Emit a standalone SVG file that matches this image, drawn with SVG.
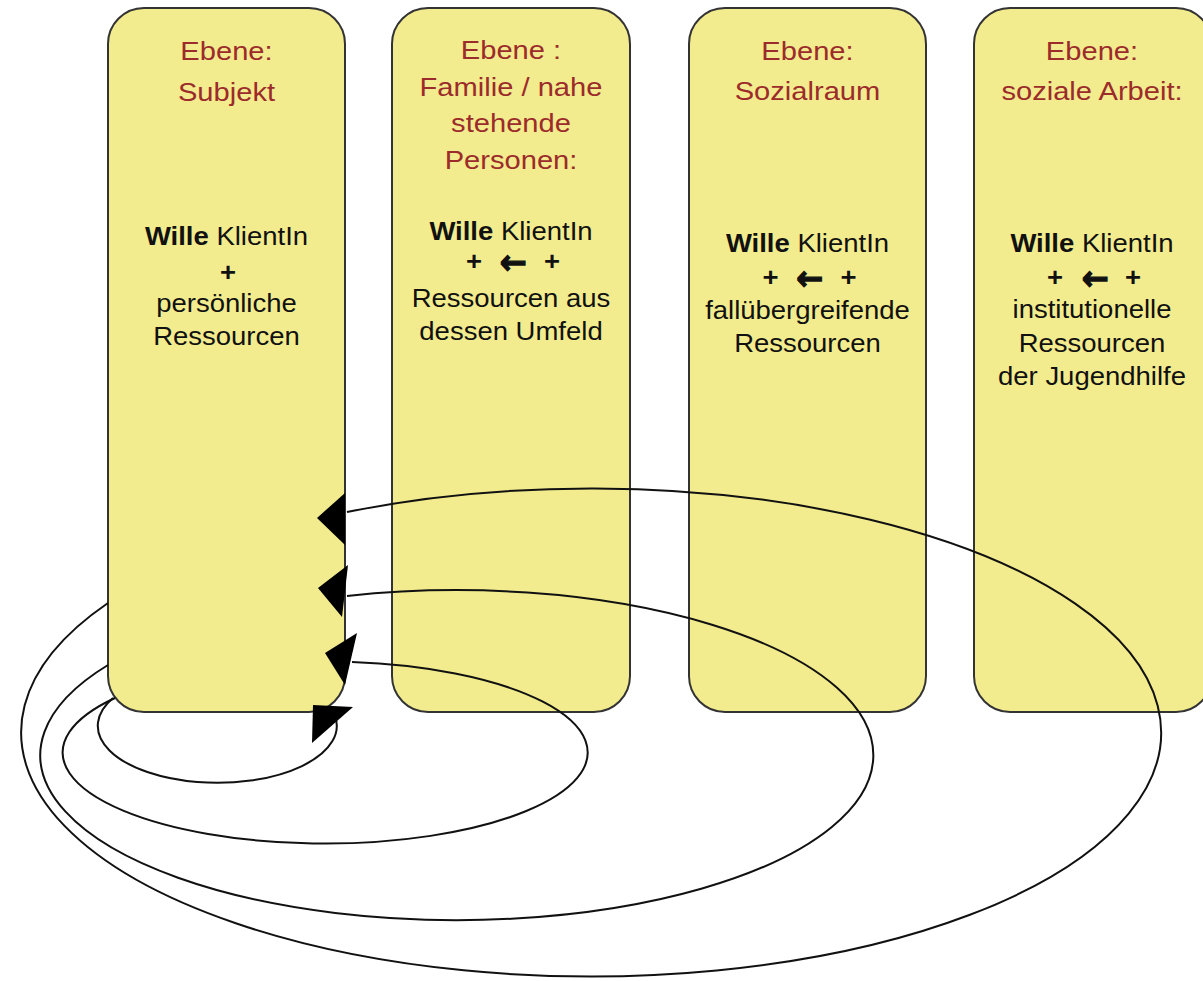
<svg xmlns="http://www.w3.org/2000/svg" width="1203" height="981" viewBox="0 0 1203 981">
<style>
.box{fill:#f2ec8e;stroke:#333;stroke-width:2}
.t{font-family:"Liberation Sans",Arial,sans-serif;text-anchor:middle}
.red{fill:#9c2b2b;font-size:26px}
.blk{fill:#111;font-size:25px}
.b{font-weight:bold}
.arr{font-family:"DejaVu Sans",sans-serif;font-weight:bold;font-size:34px;fill:#111;stroke:#111;stroke-width:1.3;text-anchor:middle}
.c{fill:none;stroke:#111;stroke-width:2}
.ah{fill:#000}
</style>
<rect width="1203" height="981" fill="#fff"/>
<g id="node-subjekt">
<rect class="box" x="108" y="8" width="237" height="704" rx="36"/>
<g transform="translate(226.5 0) scale(1.12 1)">
<text class="t red" x="0" y="60">Ebene:</text>
<text class="t red" x="0" y="101">Subjekt</text>
</g>
<g transform="translate(226.5 0) scale(1.1 1)">
<text class="t blk" x="0" y="245"><tspan class="b">Wille</tspan> KlientIn</text>
<text class="t blk b" x="1.4" y="281">+</text>
<text class="t blk" x="0" y="312">persönliche</text>
<text class="t blk" x="0" y="345">Ressourcen</text>
</g>
</g>
<g id="node-familie">
<rect class="box" x="392" y="8" width="238" height="704" rx="36"/>
<g transform="translate(511 0) scale(1.12 1)">
<text class="t red" x="0" y="59">Ebene :</text>
<text class="t red" x="0" y="96">Familie / nahe</text>
<text class="t red" x="0" y="132">stehende</text>
<text class="t red" x="0" y="169">Personen:</text>
</g>
<g transform="translate(511 0) scale(1.1 1)">
<text class="t blk" x="0" y="240"><tspan class="b">Wille</tspan> KlientIn</text>
<text class="t blk b" x="-33.6" y="270">+</text>
<text class="t blk b" x="37.3" y="270">+</text>
<text class="t blk" x="0" y="307">Ressourcen aus</text>
<text class="t blk" x="0" y="340">dessen Umfeld</text>
</g>
<text class="arr" transform="translate(513 273.5) scale(0.95 1)" x="0" y="0">←</text>
</g>
<g id="node-sozialraum">
<rect class="box" x="689" y="8" width="237" height="704" rx="36"/>
<g transform="translate(807.5 0) scale(1.12 1)">
<text class="t red" x="0" y="60">Ebene:</text>
<text class="t red" x="0" y="100">Sozialraum</text>
</g>
<g transform="translate(807.5 0) scale(1.1 1)">
<text class="t blk" x="0" y="252"><tspan class="b">Wille</tspan> KlientIn</text>
<text class="t blk b" x="-33.6" y="286">+</text>
<text class="t blk b" x="37.3" y="286">+</text>
<text class="t blk" x="0" y="319">fallübergreifende</text>
<text class="t blk" x="0" y="352">Ressourcen</text>
</g>
<text class="arr" transform="translate(809.5 289.5) scale(0.95 1)" x="0" y="0">←</text>
</g>
<g id="node-sozialearbeit">
<rect class="box" x="974" y="8" width="238" height="704" rx="36"/>
<g transform="translate(1092 0) scale(1.12 1)">
<text class="t red" x="0" y="60">Ebene:</text>
<text class="t red" x="0" y="100">soziale Arbeit:</text>
</g>
<g transform="translate(1092 0) scale(1.1 1)">
<text class="t blk" x="0" y="252"><tspan class="b">Wille</tspan> KlientIn</text>
<text class="t blk b" x="-33.6" y="286">+</text>
<text class="t blk b" x="37.3" y="286">+</text>
<text class="t blk" x="0" y="318">institutionelle</text>
<text class="t blk" x="0" y="352">Ressourcen</text>
<text class="t blk" x="0" y="385">der Jugendhilfe</text>
</g>
<text class="arr" transform="translate(1095 289.5) scale(0.95 1)" x="0" y="0">←</text>
</g>
<g id="connectors">
<path class="c" d="M108,603 A570,244 0 1 0 347,512"/>
<path class="c" d="M108,665 A416.5,165 0 1 0 347,596"/>
<path class="c" d="M115,698 A262.5,91 0 1 0 352,662"/>
<path class="c" d="M113,698 A119.5,57 0 1 0 335,716"/>
<polygon class="ah" points="345,493 317,518 345,545"/>
<polygon class="ah" points="348,565 318,588 342,617"/>
<polygon class="ah" points="357,633 325,653 345,685"/>
<polygon class="ah" points="313,705 353,707 312,743"/>
</g>
</svg>
